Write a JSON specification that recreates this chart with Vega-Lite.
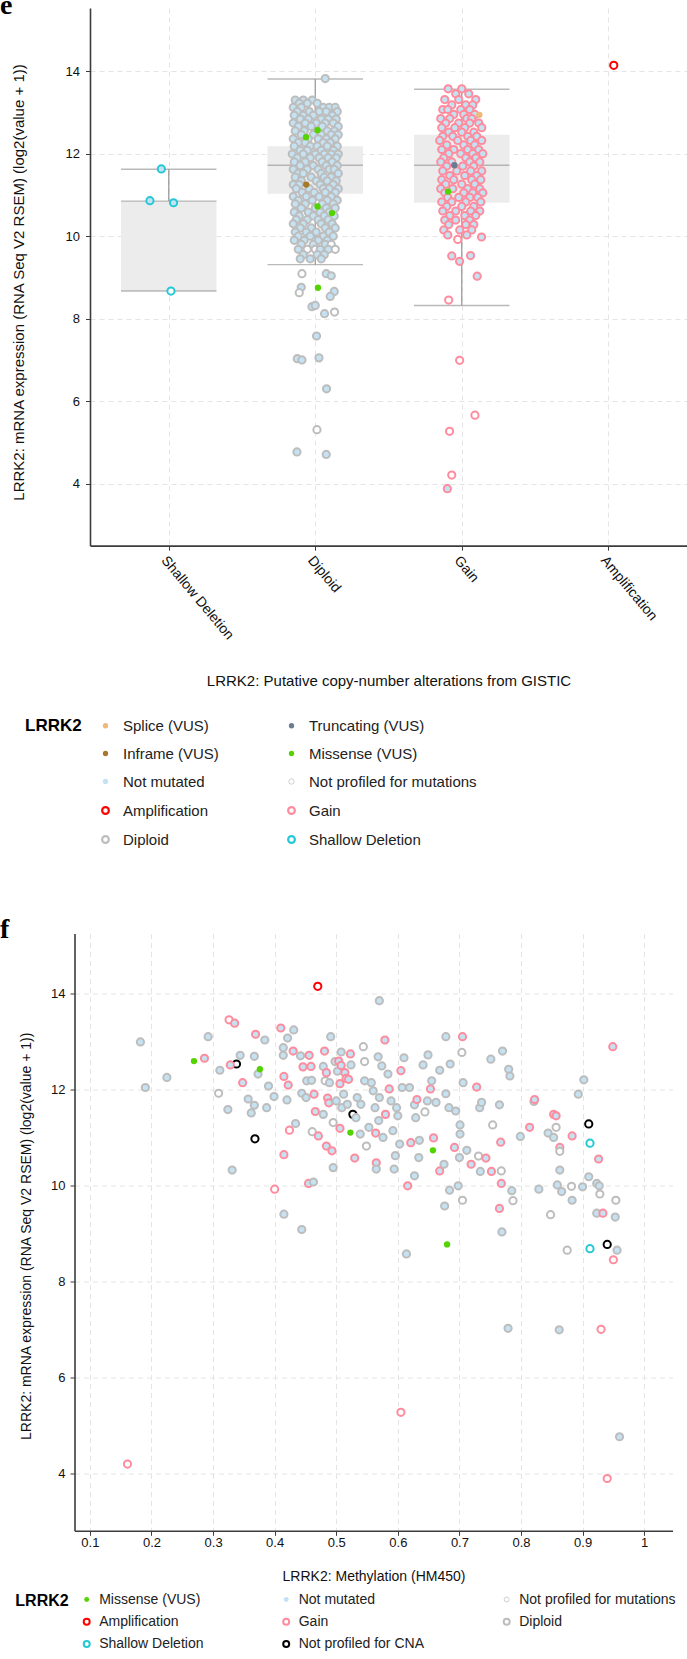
{
"$schema": "https://vega.github.io/schema/vega-lite/v6.json",
"padding": {"left": 0, "top": -9, "right": 0, "bottom": 0},
"background": "white",
"config": {
 "font": "Liberation Sans",
 "view": {"stroke": null},
 "axis": {"gridColor": "#e4e4e4", "gridDash": [5, 4], "gridWidth": 1, "domainColor": "#3c3c3c", "domainWidth": 1.6, "tickColor": "#3c3c3c", "tickSize": 4.5, "labelColor": "#111", "titleColor": "#111", "labelFont": "Liberation Sans", "titleFont": "Liberation Sans", "titleFontWeight": "normal", "labelOverlap": false, "labelFlush": false}
},
"datasets": {
 "codes": [
  {"k":"D","mut":"Not mutated","cna":"Diploid"},
  {"k":"Dw","mut":"Not profiled for mutations","cna":"Diploid"},
  {"k":"G","mut":"Not mutated","cna":"Gain"},
  {"k":"Gw","mut":"Not profiled for mutations","cna":"Gain"},
  {"k":"S","mut":"Not mutated","cna":"Shallow Deletion"},
  {"k":"Sw","mut":"Not profiled for mutations","cna":"Shallow Deletion"},
  {"k":"Aw","mut":"Not profiled for mutations","cna":"Amplification"},
  {"k":"K","mut":"Not profiled for mutations","cna":"Not profiled for CNA"},
  {"k":"MD","mut":"Missense (VUS)","cna":"Diploid"},
  {"k":"MG","mut":"Missense (VUS)","cna":"Gain"},
  {"k":"ID","mut":"Inframe (VUS)","cna":"Diploid"},
  {"k":"TG","mut":"Truncating (VUS)","cna":"Gain"},
  {"k":"SpG","mut":"Splice (VUS)","cna":"Gain"}
 ],
 "elegend": [
  {"lab":"Splice (VUS)"},{"lab":"Inframe (VUS)"},{"lab":"Not mutated"},{"lab":"Amplification"},{"lab":"Diploid"},
  {"lab":"Truncating (VUS)"},{"lab":"Missense (VUS)"},{"lab":"Not profiled for mutations"},{"lab":"Gain"},{"lab":"Shallow Deletion"}
 ],
 "flegend": [
  {"lab":"Missense (VUS)"},{"lab":"Amplification"},{"lab":"Shallow Deletion"},{"lab":"Not mutated"},
  {"lab":"Gain"},{"lab":"Not profiled for CNA"},{"lab":"Not profiled for mutations"},{"lab":"Diploid"}
 ],
 "ebox": [
  {"c":"Shallow Deletion","lo":8.67,"q1":8.67,"med":10.85,"q3":10.85,"hi":11.62},
  {"c":"Diploid","lo":9.31,"q1":11.03,"med":11.72,"q3":12.18,"hi":13.81},
  {"c":"Gain","lo":8.32,"q1":10.81,"med":11.72,"q3":12.46,"hi":13.56}
 ],
 "epts": [
  {"k":"S","j":-7.4,"v":11.63},{"k":"S","j":-18.8,"v":10.86},{"k":"S","j":4.8,"v":10.81},{"k":"Sw","j":2.2,"v":8.67},
  {"k":"Aw","j":5.5,"v":14.14},
  {"k":"D","j":10,"v":13.82},
  {"k":"D","j":-20,"v":13.3},{"k":"D","j":-12,"v":13.3},{"k":"D","j":-3,"v":13.3},
  {"k":"D","j":-16,"v":13.22},{"k":"D","j":-8,"v":13.22},{"k":"D","j":2,"v":13.22},
  {"k":"D","j":-22,"v":13.12},{"k":"D","j":-14,"v":13.12},{"k":"D","j":8,"v":13.12},{"k":"D","j":14,"v":13.12},{"k":"D","j":20,"v":13.12},
  {"k":"D","j":-18,"v":13.02},{"k":"D","j":-6,"v":13.02},{"k":"D","j":4,"v":13.02},{"k":"D","j":11,"v":13.02},{"k":"D","j":22,"v":13.02},
  {"k":"D","j":-21,"v":12.93},{"k":"D","j":-12,"v":12.93},{"k":"D","j":-2,"v":12.93},{"k":"D","j":17,"v":12.93},
  {"k":"D","j":-15,"v":12.84},{"k":"D","j":-7,"v":12.84},{"k":"D","j":6,"v":12.84},{"k":"D","j":13,"v":12.84},{"k":"D","j":21,"v":12.84},
  {"k":"D","j":-22,"v":12.74},{"k":"D","j":-10,"v":12.74},{"k":"D","j":1,"v":12.74},{"k":"D","j":10,"v":12.74},{"k":"D","j":18,"v":12.74},
  {"k":"D","j":-17,"v":12.66},{"k":"D","j":-4,"v":12.66},{"k":"D","j":7,"v":12.66},{"k":"D","j":23,"v":12.66},
  {"k":"D","j":-20,"v":12.55},{"k":"D","j":-11,"v":12.55},{"k":"D","j":12,"v":12.55},{"k":"D","j":19,"v":12.55},
  {"k":"D","j":-14,"v":12.46},{"k":"D","j":-2,"v":12.46},{"k":"D","j":6,"v":12.46},{"k":"D","j":16,"v":12.46},{"k":"D","j":23,"v":12.46},
  {"k":"D","j":-22,"v":12.36},{"k":"D","j":-7,"v":12.36},{"k":"D","j":3,"v":12.36},{"k":"D","j":11,"v":12.36},{"k":"D","j":20,"v":12.36},
  {"k":"D","j":-17,"v":12.27},{"k":"D","j":-10,"v":12.27},{"k":"D","j":8,"v":12.27},{"k":"D","j":15,"v":12.27},
  {"k":"D","j":-21,"v":12.18},{"k":"D","j":-5,"v":12.18},{"k":"D","j":2,"v":12.18},{"k":"D","j":12,"v":12.18},{"k":"D","j":22,"v":12.18},
  {"k":"D","j":-15,"v":12.08},{"k":"D","j":-8,"v":12.08},{"k":"D","j":6,"v":12.08},{"k":"D","j":18,"v":12.08},
  {"k":"D","j":-23,"v":11.99},{"k":"D","j":-12,"v":11.99},{"k":"D","j":0,"v":11.99},{"k":"D","j":9,"v":11.99},{"k":"D","j":16,"v":11.99},{"k":"D","j":23,"v":11.99},
  {"k":"D","j":-18,"v":11.9},{"k":"D","j":-5,"v":11.9},{"k":"D","j":4,"v":11.9},{"k":"D","j":13,"v":11.9},{"k":"D","j":21,"v":11.9},
  {"k":"D","j":-21,"v":11.8},{"k":"D","j":-10,"v":11.8},{"k":"D","j":7,"v":11.8},{"k":"D","j":17,"v":11.8},
  {"k":"D","j":-15,"v":11.71},{"k":"D","j":-2,"v":11.71},{"k":"D","j":11,"v":11.71},{"k":"D","j":22,"v":11.71},
  {"k":"D","j":-22,"v":11.62},{"k":"D","j":-8,"v":11.62},{"k":"D","j":3,"v":11.62},{"k":"D","j":14,"v":11.62},{"k":"D","j":19,"v":11.62},
  {"k":"D","j":-17,"v":11.52},{"k":"D","j":-12,"v":11.52},{"k":"D","j":6,"v":11.52},{"k":"D","j":23,"v":11.52},
  {"k":"D","j":-20,"v":11.43},{"k":"D","j":-4,"v":11.43},{"k":"D","j":9,"v":11.43},{"k":"D","j":16,"v":11.43},
  {"k":"D","j":-14,"v":11.34},{"k":"D","j":1,"v":11.34},{"k":"D","j":12,"v":11.34},{"k":"D","j":21,"v":11.34},
  {"k":"D","j":-22,"v":11.25},{"k":"D","j":-16,"v":11.25},{"k":"D","j":5,"v":11.25},{"k":"D","j":18,"v":11.25},
  {"k":"D","j":-19,"v":11.15},{"k":"D","j":-6,"v":11.15},{"k":"D","j":8,"v":11.15},{"k":"D","j":14,"v":11.15},{"k":"D","j":23,"v":11.15},
  {"k":"D","j":-13,"v":11.06},{"k":"D","j":-1,"v":11.06},{"k":"D","j":10,"v":11.06},{"k":"D","j":20,"v":11.06},
  {"k":"D","j":-22,"v":10.96},{"k":"D","j":-9,"v":10.96},{"k":"D","j":4,"v":10.96},{"k":"D","j":16,"v":10.96},
  {"k":"D","j":-17,"v":10.87},{"k":"D","j":-3,"v":10.87},{"k":"D","j":12,"v":10.87},{"k":"D","j":22,"v":10.87},
  {"k":"D","j":-20,"v":10.78},{"k":"D","j":-10,"v":10.78},{"k":"D","j":7,"v":10.78},{"k":"D","j":18,"v":10.78},
  {"k":"D","j":-14,"v":10.68},{"k":"D","j":0,"v":10.68},{"k":"D","j":11,"v":10.68},{"k":"D","j":20,"v":10.68},
  {"k":"D","j":-21,"v":10.58},{"k":"D","j":-7,"v":10.58},{"k":"D","j":5,"v":10.58},{"k":"D","j":14,"v":10.58},
  {"k":"D","j":-16,"v":10.49},{"k":"D","j":-2,"v":10.49},{"k":"D","j":9,"v":10.49},{"k":"D","j":19,"v":10.49},
  {"k":"D","j":-19,"v":10.4},{"k":"D","j":-8,"v":10.4},{"k":"D","j":3,"v":10.4},{"k":"D","j":13,"v":10.4},
  {"k":"D","j":-22,"v":10.3},{"k":"D","j":-12,"v":10.3},{"k":"D","j":6,"v":10.3},{"k":"D","j":17,"v":10.3},
  {"k":"D","j":-15,"v":10.2},{"k":"D","j":-4,"v":10.2},{"k":"D","j":10,"v":10.2},{"k":"D","j":20,"v":10.2},
  {"k":"D","j":-20,"v":10.1},{"k":"D","j":-9,"v":10.1},{"k":"D","j":1,"v":10.1},{"k":"D","j":14,"v":10.1},
  {"k":"D","j":-17,"v":10.0},{"k":"D","j":-5,"v":10.0},{"k":"D","j":8,"v":10.0},{"k":"D","j":18,"v":10.0},
  {"k":"D","j":-21,"v":9.9},{"k":"D","j":-11,"v":9.9},{"k":"D","j":3,"v":9.9},{"k":"D","j":12,"v":9.9},
  {"k":"D","j":-14,"v":9.8},{"k":"D","j":-2,"v":9.8},{"k":"D","j":10,"v":9.8},{"k":"Dw","j":16,"v":9.8},
  {"k":"D","j":-17,"v":9.68},{"k":"Dw","j":-8,"v":9.68},{"k":"Dw","j":0,"v":9.68},{"k":"D","j":5,"v":9.68},{"k":"D","j":13,"v":9.68},{"k":"Dw","j":20,"v":9.68},
  {"k":"D","j":-12,"v":9.55},{"k":"D","j":2,"v":9.55},{"k":"D","j":9,"v":9.55},
  {"k":"D","j":-15,"v":9.45},{"k":"D","j":-5,"v":9.45},{"k":"D","j":6,"v":9.45},
  {"k":"Dw","j":-13.3,"v":9.09},{"k":"D","j":11,"v":9.09},{"k":"D","j":16,"v":9.04},{"k":"D","j":-14,"v":8.76},{"k":"Dw","j":-16,"v":8.63},
  {"k":"D","j":19,"v":8.66},{"k":"D","j":15,"v":8.54},{"k":"D","j":-3.3,"v":8.29},{"k":"D","j":0,"v":8.32},{"k":"D","j":9.3,"v":8.12},
  {"k":"Dw","j":19.3,"v":8.16},{"k":"D","j":1.3,"v":7.58},{"k":"D","j":-18,"v":7.03},{"k":"D","j":-13.3,"v":7.0},{"k":"D","j":3.7,"v":7.05},
  {"k":"D","j":11.3,"v":6.3},{"k":"Dw","j":1.7,"v":5.31},{"k":"D","j":-18.3,"v":4.77},{"k":"D","j":11,"v":4.71},
  {"k":"MD","j":-9.3,"v":12.4},{"k":"MD","j":2.3,"v":12.57},{"k":"MD","j":2.3,"v":10.72},{"k":"MD","j":16.7,"v":10.56},{"k":"ID","j":-9,"v":11.25},{"k":"MD","j":2.7,"v":8.75},
  {"k":"G","j":-13.6,"v":13.57},{"k":"G","j":0,"v":13.57},
  {"k":"G","j":-6,"v":13.45},{"k":"G","j":7,"v":13.45},
  {"k":"G","j":-17,"v":13.31},{"k":"G","j":-3,"v":13.31},{"k":"G","j":14,"v":13.31},
  {"k":"G","j":-10,"v":13.18},{"k":"G","j":4,"v":13.18},{"k":"G","j":11,"v":13.18},
  {"k":"G","j":-19,"v":13.07},{"k":"G","j":-14,"v":13.07},{"k":"G","j":-1,"v":13.07},{"k":"G","j":8,"v":13.07},
  {"k":"G","j":-8,"v":12.95},{"k":"G","j":2,"v":12.95},{"k":"G","j":13,"v":12.95},
  {"k":"G","j":-21,"v":12.85},{"k":"G","j":-12,"v":12.85},{"k":"G","j":5,"v":12.85},{"k":"G","j":10,"v":12.85},
  {"k":"G","j":-16,"v":12.74},{"k":"G","j":-3,"v":12.74},{"k":"G","j":8,"v":12.74},{"k":"G","j":17,"v":12.74},
  {"k":"G","j":-20,"v":12.63},{"k":"G","j":-7,"v":12.63},{"k":"G","j":3,"v":12.63},{"k":"G","j":20,"v":12.63},
  {"k":"G","j":-13,"v":12.52},{"k":"G","j":0,"v":12.52},{"k":"G","j":12,"v":12.52},
  {"k":"G","j":-19,"v":12.42},{"k":"G","j":-9,"v":12.42},{"k":"G","j":6,"v":12.42},{"k":"G","j":15,"v":12.42},
  {"k":"G","j":-22,"v":12.32},{"k":"G","j":-4,"v":12.32},{"k":"G","j":9,"v":12.32},{"k":"G","j":20,"v":12.32},
  {"k":"G","j":-15,"v":12.21},{"k":"G","j":2,"v":12.21},{"k":"G","j":13,"v":12.21},
  {"k":"G","j":-20,"v":12.1},{"k":"G","j":-8,"v":12.1},{"k":"G","j":6,"v":12.1},{"k":"G","j":17,"v":12.1},
  {"k":"G","j":-13,"v":12.0},{"k":"G","j":-1,"v":12.0},{"k":"G","j":11,"v":12.0},{"k":"G","j":21,"v":12.0},
  {"k":"G","j":-18,"v":11.9},{"k":"G","j":4,"v":11.9},{"k":"G","j":14,"v":11.9},
  {"k":"G","j":-21,"v":11.8},{"k":"G","j":-10,"v":11.8},{"k":"G","j":8,"v":11.8},{"k":"G","j":18,"v":11.8},
  {"k":"G","j":-15,"v":11.7},{"k":"G","j":1,"v":11.7},{"k":"G","j":12,"v":11.7},
  {"k":"G","j":-19,"v":11.58},{"k":"G","j":-5,"v":11.58},{"k":"G","j":9,"v":11.58},{"k":"G","j":20,"v":11.58},
  {"k":"G","j":-12,"v":11.47},{"k":"G","j":3,"v":11.47},{"k":"G","j":15,"v":11.47},
  {"k":"G","j":-20,"v":11.37},{"k":"G","j":-8,"v":11.37},{"k":"G","j":10,"v":11.37},{"k":"G","j":19,"v":11.37},
  {"k":"G","j":-16,"v":11.26},{"k":"G","j":0,"v":11.26},{"k":"G","j":13,"v":11.26},
  {"k":"G","j":-21,"v":11.15},{"k":"G","j":-9,"v":11.15},{"k":"G","j":6,"v":11.15},{"k":"G","j":18,"v":11.15},
  {"k":"G","j":-17,"v":11.05},{"k":"G","j":2,"v":11.05},{"k":"G","j":11,"v":11.05},{"k":"G","j":21,"v":11.05},
  {"k":"G","j":-14,"v":10.94},{"k":"G","j":-3,"v":10.94},{"k":"G","j":8,"v":10.94},{"k":"G","j":16,"v":10.94},
  {"k":"G","j":-20,"v":10.83},{"k":"G","j":-10,"v":10.83},{"k":"G","j":4,"v":10.83},{"k":"G","j":19,"v":10.83},
  {"k":"G","j":-15,"v":10.72},{"k":"G","j":0,"v":10.72},{"k":"G","j":12,"v":10.72},
  {"k":"G","j":-19,"v":10.61},{"k":"G","j":-6,"v":10.61},{"k":"G","j":9,"v":10.61},{"k":"G","j":18,"v":10.61},
  {"k":"G","j":-12,"v":10.5},{"k":"G","j":3,"v":10.5},{"k":"G","j":14,"v":10.5},
  {"k":"G","j":-17,"v":10.39},{"k":"G","j":-6,"v":10.39},{"k":"G","j":8,"v":10.39},
  {"k":"G","j":-13,"v":10.28},{"k":"G","j":4,"v":10.28},{"k":"G","j":12,"v":10.28},
  {"k":"G","j":-18,"v":10.15},{"k":"G","j":-2,"v":10.15},{"k":"G","j":10,"v":10.15},
  {"k":"G","j":-14,"v":10.03},{"k":"G","j":5,"v":10.03},
  {"k":"G","j":19.8,"v":9.98},{"k":"Gw","j":-4,"v":9.92},{"k":"G","j":-10,"v":9.52},{"k":"G","j":8.8,"v":9.53},{"k":"G","j":-2.2,"v":9.39},
  {"k":"G","j":15.4,"v":9.03},{"k":"Gw","j":-13.1,"v":8.45},{"k":"Gw","j":-2.1,"v":6.99},{"k":"Gw","j":13.2,"v":5.66},{"k":"Gw","j":-12.2,"v":5.27},
  {"k":"Gw","j":-10,"v":4.21},{"k":"G","j":-14.4,"v":3.88},
  {"k":"SpG","j":17.6,"v":12.94},{"k":"TG","j":-7.4,"v":11.72},{"k":"MG","j":-13.7,"v":11.08}
 ],
 "fpts": [
  {"k":"K","m":0.338,"v":12.53},{"k":"K","m":0.527,"v":11.48},{"k":"K","m":0.368,"v":10.97},{"k":"K","m":0.91,"v":11.28},{"k":"K","m":0.94,"v":8.77},
  {"k":"D","m":0.182,"v":12.99},{"k":"D","m":0.19,"v":12.04},{"k":"D","m":0.225,"v":12.25},{"k":"G","m":0.286,"v":12.65},{"k":"D","m":0.292,"v":13.1},
  {"k":"Dw","m":0.309,"v":11.92},{"k":"D","m":0.311,"v":12.4},{"k":"D","m":0.324,"v":11.58},{"k":"Gw","m":0.326,"v":13.45},{"k":"G","m":0.335,"v":13.38},
  {"k":"G","m":0.328,"v":12.51},{"k":"D","m":0.344,"v":12.71},{"k":"D","m":0.331,"v":10.32},{"k":"G","m":0.348,"v":12.14},{"k":"D","m":0.357,"v":11.8},
  {"k":"D","m":0.362,"v":11.51},{"k":"D","m":0.367,"v":12.69},{"k":"G","m":0.369,"v":13.15},{"k":"D","m":0.373,"v":12.32},{"k":"D","m":0.367,"v":11.67},
  {"k":"D","m":0.384,"v":13.03},{"k":"D","m":0.39,"v":12.07},{"k":"D","m":0.387,"v":11.62},{"k":"D","m":0.399,"v":11.85},{"k":"Gw","m":0.4,"v":9.92},
  {"k":"G","m":0.41,"v":13.28},{"k":"D","m":0.414,"v":12.87},{"k":"G","m":0.415,"v":12.27},{"k":"D","m":0.414,"v":12.71},{"k":"D","m":0.42,"v":11.78},
  {"k":"D","m":0.421,"v":13.07},{"k":"G","m":0.422,"v":12.09},{"k":"G","m":0.415,"v":10.64},{"k":"D","m":0.415,"v":9.4},{"k":"Gw","m":0.424,"v":11.15},
  {"k":"D","m":0.431,"v":13.24},{"k":"G","m":0.43,"v":12.8},{"k":"D","m":0.434,"v":11.29},{"k":"D","m":0.442,"v":12.7},{"k":"D","m":0.444,"v":11.92},
  {"k":"D","m":0.444,"v":9.08},{"k":"G","m":0.446,"v":12.47},{"k":"D","m":0.451,"v":11.83},{"k":"D","m":0.452,"v":12.18},{"k":"G","m":0.456,"v":12.71},
  {"k":"G","m":0.459,"v":12.48},{"k":"D","m":0.46,"v":12.19},{"k":"Dw","m":0.461,"v":11.12},{"k":"G","m":0.455,"v":10.04},{"k":"D","m":0.463,"v":10.07},
  {"k":"G","m":0.464,"v":11.9},{"k":"G","m":0.466,"v":11.54},{"k":"Aw","m":0.47,"v":14.15},{"k":"G","m":0.471,"v":11.03},{"k":"D","m":0.479,"v":12.48},
  {"k":"D","m":0.479,"v":11.48},{"k":"G","m":0.481,"v":12.8},{"k":"Dw","m":0.482,"v":12.18},{"k":"G","m":0.484,"v":10.82},{"k":"G","m":0.484,"v":12.35},
  {"k":"G","m":0.486,"v":11.82},{"k":"G","m":0.488,"v":11.72},{"k":"D","m":0.489,"v":12.14},{"k":"D","m":0.491,"v":13.1},{"k":"G","m":0.493,"v":10.72},
  {"k":"D","m":0.495,"v":10.37},{"k":"Dw","m":0.495,"v":11.31},{"k":"D","m":0.498,"v":12.58},{"k":"D","m":0.5,"v":11.76},{"k":"D","m":0.502,"v":12.38},
  {"k":"G","m":0.504,"v":12.59},{"k":"G","m":0.506,"v":12.12},{"k":"G","m":0.506,"v":11.19},{"k":"D","m":0.508,"v":12.78},{"k":"G","m":0.508,"v":12.5},
  {"k":"D","m":0.509,"v":11.62},{"k":"D","m":0.512,"v":11.9},{"k":"G","m":0.514,"v":12.35},{"k":"G","m":0.516,"v":12.23},{"k":"D","m":0.518,"v":11.69},
  {"k":"G","m":0.52,"v":12.21},{"k":"G","m":0.523,"v":12.74},{"k":"D","m":0.524,"v":12.51},{"k":"G","m":0.53,"v":10.57},{"k":"D","m":0.532,"v":11.41},
  {"k":"D","m":0.534,"v":11.83},{"k":"D","m":0.54,"v":11.69},{"k":"D","m":0.539,"v":11.07},{"k":"Dw","m":0.544,"v":12.89},{"k":"Dw","m":0.546,"v":12.58},
  {"k":"Dw","m":0.549,"v":10.82},{"k":"D","m":0.546,"v":12.18},{"k":"D","m":0.553,"v":11.21},{"k":"D","m":0.557,"v":12.14},{"k":"D","m":0.56,"v":11.97},
  {"k":"D","m":0.563,"v":11.62},{"k":"G","m":0.565,"v":10.47},{"k":"D","m":0.565,"v":10.34},{"k":"G","m":0.564,"v":11.09},{"k":"D","m":0.568,"v":12.68},
  {"k":"D","m":0.57,"v":13.85},{"k":"D","m":0.569,"v":11.35},{"k":"D","m":0.57,"v":11.83},{"k":"D","m":0.574,"v":12.49},{"k":"D","m":0.576,"v":11.0},
  {"k":"G","m":0.579,"v":13.03},{"k":"G","m":0.58,"v":11.48},{"k":"D","m":0.584,"v":12.32},{"k":"G","m":0.586,"v":12.01},{"k":"D","m":0.589,"v":11.76},
  {"k":"D","m":0.592,"v":11.14},{"k":"D","m":0.594,"v":10.34},{"k":"D","m":0.596,"v":10.62},{"k":"D","m":0.598,"v":11.62},{"k":"D","m":0.6,"v":11.45},
  {"k":"D","m":0.603,"v":10.86},{"k":"G","m":0.605,"v":12.39},{"k":"D","m":0.607,"v":12.04},{"k":"D","m":0.61,"v":12.66},{"k":"D","m":0.614,"v":8.57},
  {"k":"G","m":0.616,"v":9.99},{"k":"D","m":0.619,"v":12.04},{"k":"G","m":0.621,"v":10.89},{"k":"D","m":0.627,"v":10.2},{"k":"D","m":0.627,"v":11.68},
  {"k":"D","m":0.629,"v":11.41},{"k":"G","m":0.631,"v":11.79},{"k":"D","m":0.634,"v":10.58},{"k":"D","m":0.635,"v":10.94},{"k":"D","m":0.641,"v":12.51},
  {"k":"Dw","m":0.644,"v":11.53},{"k":"D","m":0.648,"v":11.76},{"k":"D","m":0.649,"v":12.72},{"k":"G","m":0.653,"v":12.01},{"k":"D","m":0.655,"v":12.18},
  {"k":"G","m":0.658,"v":10.99},{"k":"D","m":0.662,"v":11.73},{"k":"G","m":0.668,"v":10.3},{"k":"D","m":0.668,"v":12.4},{"k":"D","m":0.675,"v":10.44},
  {"k":"D","m":0.676,"v":9.57},{"k":"D","m":0.678,"v":13.1},{"k":"D","m":0.678,"v":11.91},{"k":"D","m":0.683,"v":11.62},{"k":"D","m":0.684,"v":9.9},
  {"k":"D","m":0.685,"v":12.53},{"k":"G","m":0.692,"v":10.79},{"k":"D","m":0.694,"v":11.55},{"k":"D","m":0.698,"v":9.99},{"k":"D","m":0.7,"v":10.58},
  {"k":"D","m":0.701,"v":11.07},{"k":"D","m":0.701,"v":11.26},{"k":"Dw","m":0.704,"v":12.77},{"k":"G","m":0.705,"v":13.1},{"k":"Dw","m":0.705,"v":9.69},
  {"k":"D","m":0.706,"v":12.14},{"k":"D","m":0.712,"v":10.73},{"k":"G","m":0.719,"v":10.44},{"k":"G","m":0.728,"v":12.05},{"k":"Dw","m":0.731,"v":10.61},
  {"k":"D","m":0.733,"v":11.62},{"k":"D","m":0.734,"v":10.29},{"k":"D","m":0.736,"v":11.73},{"k":"G","m":0.743,"v":10.57},{"k":"G","m":0.752,"v":10.29},
  {"k":"D","m":0.751,"v":12.63},{"k":"Dw","m":0.754,"v":11.26},{"k":"D","m":0.765,"v":11.68},{"k":"G","m":0.767,"v":10.9},{"k":"G","m":0.768,"v":10.04},
  {"k":"Dw","m":0.768,"v":10.3},{"k":"G","m":0.765,"v":9.52},{"k":"D","m":0.769,"v":9.03},{"k":"D","m":0.77,"v":12.8},{"k":"D","m":0.78,"v":12.42},
  {"k":"D","m":0.782,"v":12.28},{"k":"D","m":0.785,"v":9.89},{"k":"Dw","m":0.787,"v":9.68},{"k":"D","m":0.799,"v":11.02},{"k":"G","m":0.814,"v":11.21},
  {"k":"D","m":0.821,"v":11.75},{"k":"G","m":0.822,"v":11.79},{"k":"D","m":0.829,"v":9.92},{"k":"D","m":0.844,"v":11.09},{"k":"Dw","m":0.848,"v":9.39},
  {"k":"G","m":0.853,"v":11.48},{"k":"G","m":0.857,"v":11.45},{"k":"D","m":0.853,"v":11.0},{"k":"Dw","m":0.857,"v":11.21},{"k":"G","m":0.863,"v":10.79},
  {"k":"Dw","m":0.863,"v":10.71},{"k":"D","m":0.863,"v":10.32},{"k":"D","m":0.859,"v":10.01},{"k":"D","m":0.866,"v":9.87},{"k":"Dw","m":0.882,"v":9.98},
  {"k":"D","m":0.883,"v":9.69},{"k":"G","m":0.883,"v":11.03},{"k":"Dw","m":0.875,"v":8.65},{"k":"D","m":0.893,"v":11.9},{"k":"D","m":0.902,"v":12.2},
  {"k":"D","m":0.9,"v":9.97},{"k":"D","m":0.91,"v":10.18},{"k":"Sw","m":0.912,"v":10.88},{"k":"Sw","m":0.912,"v":8.68},{"k":"D","m":0.923,"v":10.04},
  {"k":"G","m":0.926,"v":10.55},{"k":"D","m":0.927,"v":9.99},{"k":"Dw","m":0.928,"v":9.82},{"k":"D","m":0.923,"v":9.42},{"k":"G","m":0.933,"v":9.42},
  {"k":"G","m":0.949,"v":12.89},{"k":"Gw","m":0.95,"v":8.45},{"k":"D","m":0.953,"v":9.34},{"k":"Dw","m":0.954,"v":9.69},{"k":"D","m":0.956,"v":8.65},
  {"k":"D","m":0.779,"v":7.02},{"k":"D","m":0.862,"v":6.99},{"k":"Gw","m":0.93,"v":7.0},{"k":"Gw","m":0.605,"v":5.27},{"k":"D","m":0.96,"v":4.76},
  {"k":"Gw","m":0.161,"v":4.19},{"k":"Gw","m":0.94,"v":3.89},
  {"k":"MD","m":0.269,"v":12.59},{"k":"MD","m":0.376,"v":12.42},{"k":"MD","m":0.523,"v":11.1},{"k":"MD","m":0.657,"v":10.73},{"k":"MD","m":0.68,"v":8.77}
 ]
},
"concat": [
 {
  "title": {"text": "e", "anchor": "start", "frame": "group", "orient": "top", "font": "Liberation Serif", "fontSize": 28, "fontWeight": "bold", "color": "#000", "dx": -90, "offset": 0, "baseline": "alphabetic", "dy": 33.9},
  "width": 597,
  "height": 537.6,
  "layer": [
   {
    "data": {"name": "elegend"},
    "mark": {"type": "point", "shape": "circle", "filled": true, "opacity": 0},
    "encoding": {
     "fill": {"field": "lab", "type": "nominal",
      "scale": {"domain": ["Splice (VUS)", "Inframe (VUS)", "Not mutated", "Amplification", "Diploid", "Truncating (VUS)", "Missense (VUS)", "Not profiled for mutations", "Gain", "Shallow Deletion"],
       "range": ["#f0b87b", "#a5782a", "#c4e2f2", "#ffffff", "#ffffff", "#6a7d90", "#53d400", "#ffffff", "#ffffff", "#ffffff"]},
      "legend": {"title": "LRRK2", "orient": "none", "legendX": -65, "legendY": 710, "columns": 2, "titleOrient": "left", "titleAnchor": "start", "titleBaseline": "top", "titleFontSize": 17, "titleFontWeight": "bold", "titleColor": "#000", "titleFont": "Liberation Sans", "titlePadding": 16, "labelFontSize": 15, "labelColor": "#222", "labelFont": "Liberation Sans", "labelLimit": 300, "symbolType": "circle", "symbolOpacity": 1, "rowPadding": 12, "columnPadding": 64, "labelOffset": 10, "padding": 0}},
     "stroke": {"field": "lab", "type": "nominal",
      "scale": {"domain": ["Splice (VUS)", "Inframe (VUS)", "Not mutated", "Amplification", "Diploid", "Truncating (VUS)", "Missense (VUS)", "Not profiled for mutations", "Gain", "Shallow Deletion"],
       "range": ["transparent", "transparent", "transparent", "#ff0000", "#bdbdbd", "transparent", "transparent", "#cfcfcf", "#ff8c9e", "#25c9d6"]},
      "legend": {"title": "LRRK2", "orient": "none", "legendX": -65, "legendY": 710, "columns": 2, "titleOrient": "left", "titleAnchor": "start", "titleBaseline": "top", "titleFontSize": 17, "titleFontWeight": "bold", "titleColor": "#000", "titleFont": "Liberation Sans", "titlePadding": 16, "labelFontSize": 15, "labelColor": "#222", "labelFont": "Liberation Sans", "labelLimit": 300, "symbolType": "circle", "symbolOpacity": 1, "rowPadding": 12, "columnPadding": 64, "labelOffset": 10, "padding": 0}},
     "size": {"field": "lab", "type": "ordinal",
      "scale": {"type": "ordinal", "domain": ["Splice (VUS)", "Inframe (VUS)", "Not mutated", "Amplification", "Diploid", "Truncating (VUS)", "Missense (VUS)", "Not profiled for mutations", "Gain", "Shallow Deletion"],
       "range": [28, 28, 28, 45, 45, 28, 28, 28, 45, 45]},
      "legend": {"title": "LRRK2", "orient": "none", "legendX": -65, "legendY": 710, "columns": 2, "titleOrient": "left", "titleAnchor": "start", "titleBaseline": "top", "titleFontSize": 17, "titleFontWeight": "bold", "titleColor": "#000", "titleFont": "Liberation Sans", "titlePadding": 16, "labelFontSize": 15, "labelColor": "#222", "labelFont": "Liberation Sans", "labelLimit": 300, "symbolType": "circle", "symbolOpacity": 1, "rowPadding": 12, "columnPadding": 64, "labelOffset": 10, "padding": 0}},
     "strokeWidth": {"field": "lab", "type": "ordinal",
      "scale": {"type": "ordinal", "domain": ["Splice (VUS)", "Inframe (VUS)", "Not mutated", "Amplification", "Diploid", "Truncating (VUS)", "Missense (VUS)", "Not profiled for mutations", "Gain", "Shallow Deletion"],
       "range": [0, 0, 0, 2.2, 2.2, 0, 0, 1, 2.2, 2.2]},
      "legend": {"title": "LRRK2", "orient": "none", "legendX": -65, "legendY": 710, "columns": 2, "titleOrient": "left", "titleAnchor": "start", "titleBaseline": "top", "titleFontSize": 17, "titleFontWeight": "bold", "titleColor": "#000", "titleFont": "Liberation Sans", "titlePadding": 16, "labelFontSize": 15, "labelColor": "#222", "labelFont": "Liberation Sans", "labelLimit": 300, "symbolType": "circle", "symbolOpacity": 1, "rowPadding": 12, "columnPadding": 64, "labelOffset": 10, "padding": 0}}
    }
   },
   {
    "data": {"name": "ebox"},
    "mark": {"type": "rule", "color": "#9c9c9c", "strokeWidth": 1.3},
    "encoding": {
     "x": {"field": "c", "type": "nominal", "scale": {"type": "point", "domain": ["Shallow Deletion", "Diploid", "Gain", "Amplification"], "padding": 0.5375},
      "axis": {"title": "LRRK2: Putative copy-number alterations from GISTIC", "labelAngle": 50, "labelAlign": "left", "labelBaseline": "top", "labelFontSize": 14, "labelPadding": 3, "titleFontSize": 15, "titlePadding": 32, "grid": true, "labelLimit": 0}},
     "y": {"field": "lo", "type": "quantitative", "scale": {"domain": [2.5, 15.53], "nice": false, "zero": false},
      "axis": {"title": "LRRK2: mRNA expression (RNA Seq V2 RSEM) (log2(value + 1))", "values": [4, 6, 8, 10, 12, 14], "labelFontSize": 13, "labelPadding": 6, "titleFontSize": 15, "titleX": -72, "titleY": 274, "titleBaseline": "middle", "titleAngle": -90, "grid": true}},
     "y2": {"field": "hi"}
    }
   },
   {
    "data": {"name": "ebox"},
    "mark": {"type": "bar", "color": "#ececec", "size": 95.5},
    "encoding": {
     "x": {"field": "c", "type": "nominal"},
     "y": {"field": "q1", "type": "quantitative"},
     "y2": {"field": "q3"}
    }
   },
   {
    "data": {"name": "ebox"},
    "transform": [{"fold": ["lo", "med", "hi"], "as": ["stat", "val"]}],
    "mark": {"type": "tick", "color": "#9c9c9c", "size": 95.5, "thickness": 1.4},
    "encoding": {
     "x": {"field": "c", "type": "nominal"},
     "y": {"field": "val", "type": "quantitative"}
    }
   },
   {
    "data": {"name": "epts"},
    "transform": [
     {"lookup": "k", "from": {"data": {"name": "codes"}, "key": "k", "fields": ["mut", "cna"]}},
     {"filter": "datum.mut === 'Not mutated' || datum.mut === 'Not profiled for mutations'"}
    ],
    "mark": {"type": "point", "shape": "circle", "filled": true, "size": 52, "strokeWidth": 2, "opacity": 1},
    "encoding": {
     "x": {"field": "cna", "type": "nominal"},
     "xOffset": {"field": "j", "type": "quantitative", "scale": {"domain": [-30, 30], "range": [-30, 30]}},
     "y": {"field": "v", "type": "quantitative"},
     "fill": {"field": "mut", "type": "nominal"},
     "stroke": {"field": "cna", "type": "nominal"}
    }
   },
   {
    "data": {"name": "epts"},
    "transform": [
     {"lookup": "k", "from": {"data": {"name": "codes"}, "key": "k", "fields": ["mut", "cna"]}},
     {"filter": "datum.mut !== 'Not mutated' && datum.mut !== 'Not profiled for mutations'"}
    ],
    "mark": {"type": "circle", "size": 40, "strokeWidth": 0, "opacity": 1},
    "encoding": {
     "x": {"field": "cna", "type": "nominal"},
     "xOffset": {"field": "j", "type": "quantitative", "scale": {"domain": [-30, 30], "range": [-30, 30]}},
     "y": {"field": "v", "type": "quantitative"},
     "fill": {"field": "mut", "type": "nominal"}
    }
   }
  ]
 },
 {
  "title": {"text": "f", "anchor": "start", "frame": "group", "orient": "top", "font": "Liberation Serif", "fontSize": 28, "fontWeight": "bold", "color": "#000", "dx": -90, "offset": 0, "baseline": "alphabetic", "dy": 32.9},
  "width": 582.5,
  "height": 597.3,
  "layer": [
   {
    "data": {"name": "flegend"},
    "mark": {"type": "point", "shape": "circle", "filled": true, "opacity": 0},
    "encoding": {
     "fill": {"field": "lab", "type": "nominal",
      "scale": {"domain": ["Missense (VUS)", "Amplification", "Shallow Deletion", "Not mutated", "Gain", "Not profiled for CNA", "Not profiled for mutations", "Diploid"],
       "range": ["#53d400", "#ffffff", "#ffffff", "#c4e2f2", "#ffffff", "#ffffff", "#ffffff", "#ffffff"]},
      "legend": {"title": "LRRK2", "orient": "none", "legendX": -74.7, "legendY": 659, "columns": 3, "titleOrient": "left", "titleAnchor": "start", "titleBaseline": "top", "titleFontSize": 16, "titleFontWeight": "bold", "titleColor": "#000", "titleFont": "Liberation Sans", "titlePadding": 10.4, "labelFontSize": 14, "labelColor": "#222", "labelFont": "Liberation Sans", "labelLimit": 300, "symbolType": "circle", "symbolOpacity": 1, "rowPadding": 8.3, "columnPadding": 75.5, "labelOffset": 5.5, "padding": 0}},
     "stroke": {"field": "lab", "type": "nominal",
      "scale": {"domain": ["Missense (VUS)", "Amplification", "Shallow Deletion", "Not mutated", "Gain", "Not profiled for CNA", "Not profiled for mutations", "Diploid"],
       "range": ["transparent", "#ff0000", "#25c9d6", "transparent", "#ff8c9e", "#000000", "#cfcfcf", "#bdbdbd"]},
      "legend": {"title": "LRRK2", "orient": "none", "legendX": -74.7, "legendY": 659, "columns": 3, "titleOrient": "left", "titleAnchor": "start", "titleBaseline": "top", "titleFontSize": 16, "titleFontWeight": "bold", "titleColor": "#000", "titleFont": "Liberation Sans", "titlePadding": 10.4, "labelFontSize": 14, "labelColor": "#222", "labelFont": "Liberation Sans", "labelLimit": 300, "symbolType": "circle", "symbolOpacity": 1, "rowPadding": 8.3, "columnPadding": 75.5, "labelOffset": 5.5, "padding": 0}},
     "size": {"field": "lab", "type": "ordinal",
      "scale": {"type": "ordinal", "domain": ["Missense (VUS)", "Amplification", "Shallow Deletion", "Not mutated", "Gain", "Not profiled for CNA", "Not profiled for mutations", "Diploid"],
       "range": [24, 36, 36, 24, 36, 36, 24, 36]},
      "legend": {"title": "LRRK2", "orient": "none", "legendX": -74.7, "legendY": 659, "columns": 3, "titleOrient": "left", "titleAnchor": "start", "titleBaseline": "top", "titleFontSize": 16, "titleFontWeight": "bold", "titleColor": "#000", "titleFont": "Liberation Sans", "titlePadding": 10.4, "labelFontSize": 14, "labelColor": "#222", "labelFont": "Liberation Sans", "labelLimit": 300, "symbolType": "circle", "symbolOpacity": 1, "rowPadding": 8.3, "columnPadding": 75.5, "labelOffset": 5.5, "padding": 0}},
     "strokeWidth": {"field": "lab", "type": "ordinal",
      "scale": {"type": "ordinal", "domain": ["Missense (VUS)", "Amplification", "Shallow Deletion", "Not mutated", "Gain", "Not profiled for CNA", "Not profiled for mutations", "Diploid"],
       "range": [0, 2, 2, 0, 2, 2, 1, 2]},
      "legend": {"title": "LRRK2", "orient": "none", "legendX": -74.7, "legendY": 659, "columns": 3, "titleOrient": "left", "titleAnchor": "start", "titleBaseline": "top", "titleFontSize": 16, "titleFontWeight": "bold", "titleColor": "#000", "titleFont": "Liberation Sans", "titlePadding": 10.4, "labelFontSize": 14, "labelColor": "#222", "labelFont": "Liberation Sans", "labelLimit": 300, "symbolType": "circle", "symbolOpacity": 1, "rowPadding": 8.3, "columnPadding": 75.5, "labelOffset": 5.5, "padding": 0}}
    }
   },
   {
    "data": {"name": "fpts"},
    "transform": [
     {"lookup": "k", "from": {"data": {"name": "codes"}, "key": "k", "fields": ["mut", "cna"]}},
     {"filter": "datum.mut === 'Not mutated' || datum.mut === 'Not profiled for mutations'"}
    ],
    "mark": {"type": "point", "shape": "circle", "filled": true, "size": 52, "strokeWidth": 2, "opacity": 1},
    "encoding": {
     "x": {"field": "m", "type": "quantitative", "scale": {"domain": [0.075, 1.046], "range": [-15.5, 582.5], "nice": false, "zero": false},
      "axis": {"title": "LRRK2: Methylation (HM450)", "values": [0.1, 0.2, 0.3, 0.4, 0.5, 0.6, 0.7, 0.8, 0.9, 1.0], "format": ".1~f", "labelFontSize": 13, "labelPadding": 1, "titleFontSize": 14, "titlePadding": 20, "grid": true}},
     "y": {"field": "v", "type": "quantitative", "scale": {"domain": [2.8, 15.25], "nice": false, "zero": false},
      "axis": {"title": "LRRK2: mRNA expression (RNA Seq V2 RSEM) (log2(value + 1))", "values": [4, 6, 8, 10, 12, 14], "offset": 15.5, "labelFontSize": 13, "labelPadding": 5, "titleFontSize": 14, "titleX": -48, "titleY": 302.3, "titleBaseline": "middle", "titleAngle": -90, "grid": true}},
     "fill": {"field": "mut", "type": "nominal"},
     "stroke": {"field": "cna", "type": "nominal"}
    }
   },
   {
    "data": {"name": "fpts"},
    "transform": [
     {"lookup": "k", "from": {"data": {"name": "codes"}, "key": "k", "fields": ["mut", "cna"]}},
     {"filter": "datum.mut !== 'Not mutated' && datum.mut !== 'Not profiled for mutations'"}
    ],
    "mark": {"type": "circle", "size": 40, "strokeWidth": 0, "opacity": 1},
    "encoding": {
     "x": {"field": "m", "type": "quantitative"},
     "y": {"field": "v", "type": "quantitative"},
     "fill": {"field": "mut", "type": "nominal"}
    }
   }
  ]
 }
],
"columns": 1,
"spacing": 67.5,
"align": "none",
"bounds": "full",
"resolve": {"scale": {"x": "independent", "y": "independent", "fill": "independent", "stroke": "independent", "size": "independent", "strokeWidth": "independent", "xOffset": "independent"}, "legend": {"fill": "independent", "stroke": "independent", "size": "independent", "strokeWidth": "independent"}}
}
